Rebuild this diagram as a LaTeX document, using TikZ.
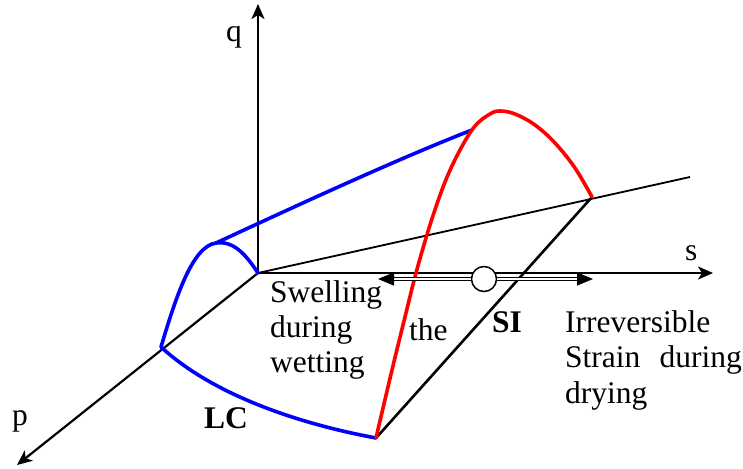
\documentclass[tikz,border=0pt]{standalone}
\usepackage{fontspec}
\setmainfont{Liberation Serif}
\usetikzlibrary{arrows.meta}
\begin{document}
\begin{tikzpicture}[x=1pt,y=-1pt,
  axis/.style={line width=2.2pt,-{Stealth[length=15pt,width=13pt,inset=4pt]}},
  thinline/.style={line width=1.8pt},
  blueline/.style={blue,line width=3.6pt,line cap=round},
  redline/.style={red,line width=3.6pt,line cap=round},
  lbl/.style={inner sep=0pt,anchor=base west,font=\fontsize{31.5}{35}\selectfont},
  bflbl/.style={lbl,font=\fontsize{31.5}{35}\selectfont\bfseries},
  dblarrow/.style={line width=1.3pt,double,double distance=2pt,-{Triangle[length=16pt,width=13pt]}},
  ring/.style={circle,draw,fill=white,line width=1.5pt,minimum size=25pt,inner sep=0pt}]
\useasboundingbox (0,0) rectangle (743,468);
% key points
\coordinate (O) at (258,273);
\coordinate (qtip) at (258,4);
\coordinate (stip) at (713,273);
\coordinate (ptip) at (17,465);
\coordinate (far) at (690,177);
\coordinate (A) at (161,347);   % LC start on p axis
\coordinate (B) at (376,438);   % LC end
\coordinate (Cc) at (592,197);  % red end on the far line
\coordinate (H) at (216,243);   % blue hump
\coordinate (T) at (472,130);   % blue top end
\coordinate (Lt) at (378,279);
\coordinate (Rt) at (593,279);
% axes
\draw[axis] (O) -- (qtip);
\draw[axis] (O) -- (stip);
\draw[axis] (O) -- (ptip);
\draw[thinline] (O) -- (far);
% SI line
\draw[line width=2.6pt] (B) -- (Cc);
% blue curves
\draw[blueline] (A) .. controls (175,300) and (192,246) .. (H)
  .. controls (235,240) and (248,258) .. (O);
\draw[blueline] (H) .. controls (300,204) and (400,158) .. (T);
\draw[blueline] (A) .. controls (210,392) and (290,422) .. (B);
% red curve
\draw[redline] plot[smooth,tension=0.6] coordinates {(376,438) (392,370) (405,317) (416,273) (430,225) (445,182) (460,150) (475,126) (490,114) (500,111) (515,114) (535,125) (555,143) (575,168) (592,197)};
% double arrow with circle
\node[ring] (ring) at (484,279) {};
\draw[dblarrow] (ring.west) -- (Lt);
\draw[dblarrow] (ring.east) -- (Rt);
% labels
\node[lbl] (ql) at (226,42) {q};
\node[lbl] (sl) at (685,260) {s};
\node[lbl] (pl) at (12,425) {p};
\node[lbl] (sw1) at (270,302) {Swelling};
\node[lbl] (sw2) at (270,337) {during};
\node[lbl] (sw3) at (270,372) {wetting};
\node[lbl] (the) at (409,340) {the};
\node[bflbl] (si) at (492,332) {SI};
\node[bflbl] (lc) at (204,428) {LC};
\node[lbl] (ir1) at (565,332) {Irreversible};
\node[lbl] (ir2) at (565,367) {Strain};
\node[lbl,anchor=base east] (ir3) at (742,367) {during};
\node[lbl] (ir4) at (565,403) {drying};
\end{tikzpicture}
\end{document}
